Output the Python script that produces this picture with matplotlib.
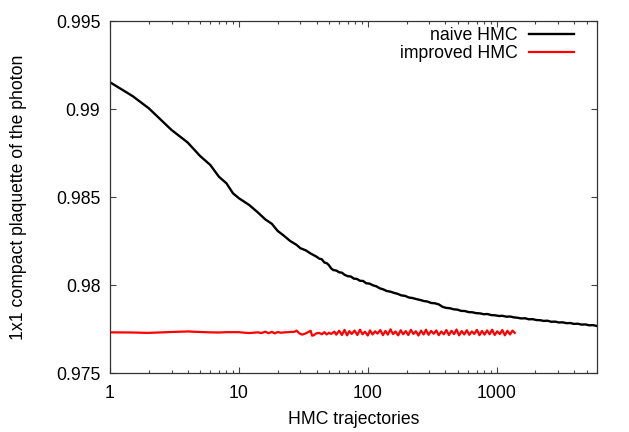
import matplotlib
matplotlib.use("Agg")
import matplotlib.pyplot as plt
from matplotlib.ticker import LogLocator, FixedLocator, NullFormatter

# ---- data ----
naive_x = [1, 1.5, 2, 3, 4, 5, 6, 7, 8, 9,
           10, 12, 14, 16, 18, 20, 22, 25, 28, 30,
           33, 36,
           40, 42, 44, 46, 48, 50, 52, 54, 57, 60,
           63, 66, 70, 74, 78, 82, 87, 92, 97, 103,
           110, 117, 124, 132, 140, 150, 160, 170, 182, 195,
           208, 222, 238, 255, 272, 290, 310, 332, 355, 380,
           405, 433, 463, 495, 530, 567, 606, 648, 693, 741,
           793, 848, 907, 970, 1037, 1110, 1187, 1270, 1360, 1450,
           1550, 1660, 1780, 1900, 2030, 2170, 2320, 2480, 2650, 2840,
           3040, 3250, 3480, 3720, 3980, 4260, 4560, 4880, 5220, 5580,
           6000]
naive_y = [0.99152, 0.99073, 0.99004, 0.98881, 0.98810, 0.98733, 0.98682, 0.98615, 0.98578, 0.98521,
           0.98493, 0.98455, 0.98413, 0.98373, 0.98348, 0.98307, 0.98284, 0.98250, 0.98228, 0.98209,
           0.98197, 0.98179,
           0.98161, 0.98150, 0.98146, 0.98128, 0.98124, 0.98112, 0.98094, 0.98085, 0.98082, 0.98072,
           0.98070, 0.98058, 0.98050, 0.98048, 0.98036, 0.98035, 0.98024, 0.98023, 0.98010, 0.98008,
           0.97998, 0.97992, 0.97981, 0.97975, 0.97966, 0.97962, 0.97955, 0.97950, 0.97941, 0.97938,
           0.97929, 0.97926, 0.97920, 0.97915, 0.97909, 0.97906, 0.97898, 0.97896, 0.97890, 0.97876,
           0.97870, 0.97868, 0.97862, 0.97860, 0.97853, 0.97852, 0.97846, 0.97845, 0.97840, 0.97839,
           0.97834, 0.97835, 0.97829, 0.97828, 0.97824, 0.97825, 0.97820, 0.97821, 0.97816, 0.97814,
           0.97810, 0.97811, 0.97805, 0.97806, 0.97801, 0.97800, 0.97796, 0.97797, 0.97791, 0.97792,
           0.97787, 0.97788, 0.97783, 0.97784, 0.97779, 0.97780, 0.97775, 0.97776, 0.97771, 0.97772,
           0.97767]

improved_x = [1, 1.5, 2, 3, 4, 5, 6, 7, 8, 10,
              11, 12, 13, 14, 15, 16, 17, 18, 19, 20,
              21, 23, 25, 27, 28, 29, 30, 31, 33, 35,
              36, 37, 38, 40, 42, 44, 46, 48, 50, 52,
              55, 57,
              60, 63, 66, 69, 72, 75, 79, 83, 87, 91,
              95, 100, 104, 109, 114, 119, 125, 131, 137, 143,
              150, 157, 164, 172, 180, 188, 197, 206, 216, 226,
              236, 247, 259, 271, 283, 296, 310, 325, 340, 355,
              372, 389, 407, 426, 446, 467, 488, 511, 535, 560,
              586, 613, 641, 671, 702, 735, 769, 805, 842, 881,
              922, 965, 1010, 1057, 1106, 1157, 1211, 1267, 1326, 1380]
improved_y = [0.97731, 0.97730, 0.97728, 0.97733, 0.97736, 0.97733, 0.97731, 0.97730, 0.97732, 0.97732,
              0.97729, 0.97727, 0.97729, 0.97731, 0.97727, 0.97735, 0.97726, 0.97734, 0.97725, 0.97733,
              0.97729, 0.97731, 0.97733, 0.97734, 0.97741, 0.97730, 0.97722, 0.97718, 0.97725, 0.97735,
              0.97740, 0.97712, 0.97714, 0.97726, 0.97728, 0.97720, 0.97732, 0.97719, 0.97729, 0.97722,
              0.97735, 0.97718,
              0.97740, 0.97716, 0.97745, 0.97714, 0.97738, 0.97722, 0.97741, 0.97716, 0.97746, 0.97720,
              0.97735, 0.97713, 0.97742, 0.97719, 0.97737, 0.97724, 0.97744, 0.97715, 0.97739, 0.97718,
              0.97748, 0.97721, 0.97736, 0.97714, 0.97743, 0.97720, 0.97738, 0.97716, 0.97745, 0.97722,
              0.97737, 0.97713, 0.97741, 0.97719, 0.97746, 0.97717, 0.97739, 0.97723, 0.97742, 0.97715,
              0.97736, 0.97720, 0.97744, 0.97716, 0.97740, 0.97721, 0.97747, 0.97714, 0.97738, 0.97719,
              0.97743, 0.97717, 0.97736, 0.97722, 0.97745, 0.97715, 0.97739, 0.97718, 0.97742, 0.97720,
              0.97746, 0.97716, 0.97737, 0.97721, 0.97744, 0.97714, 0.97740, 0.97719, 0.97741, 0.97728]

x_ticks = [1, 10, 100, 1000]
x_tick_labels = ["1", "10", "100", "1000"]
y_ticks = [0.975, 0.98, 0.985, 0.99, 0.995]
y_tick_labels = ["0.975", "0.98", "0.985", "0.99", "0.995"]

plt.rcParams['font.family'] = ['Liberation Sans', 'DejaVu Sans']
plt.rcParams['font.size'] = 12.7

fig = plt.figure(figsize=(6.29, 4.32), dpi=100)
ax = fig.add_axes([110/629, 59/432, 487/629, 352/432])

ax.plot(naive_x, naive_y, color='black', lw=1.7, label='naive HMC')
ax.plot(improved_x, improved_y, color='#ff0000', lw=1.6, label='improved HMC')

ax.set_xscale('log')
ax.set_xlim(1, 6000)
ax.set_ylim(0.975, 0.995)
ax.xaxis.set_major_locator(FixedLocator(x_ticks))
ax.set_xticklabels(x_tick_labels)
ax.xaxis.set_minor_locator(LogLocator(base=10, subs=range(2, 10)))
ax.xaxis.set_minor_formatter(NullFormatter())
ax.set_yticks(y_ticks)
ax.set_yticklabels(y_tick_labels)

ax.tick_params(which='both', direction='in', top=True, right=True, color='#444444')
ax.tick_params(which='major', length=4.5, width=0.8)
ax.tick_params(which='minor', length=2.5, width=0.8)
ax.tick_params(axis='x', which='major', pad=9)
ax.tick_params(axis='y', which='major', pad=7)
for s in ax.spines.values():
    s.set_color('#333333')
    s.set_linewidth(0.9)

ax.set_xlabel('HMC trajectories', labelpad=6)
ax.set_ylabel('1x1 compact plaquette of the photon')
ax.yaxis.set_label_coords(-0.171, 0.5)

leg = ax.legend(loc='upper right', frameon=False, markerfirst=False,
                handlelength=2.55, handletextpad=0.65, labelspacing=0.05,
                borderaxespad=0.0, borderpad=0.4,
                bbox_to_anchor=(0.967, 1.0035))
for t in leg.get_texts():
    t.set_ha('right')

fig.savefig('out.png', dpi=100)
